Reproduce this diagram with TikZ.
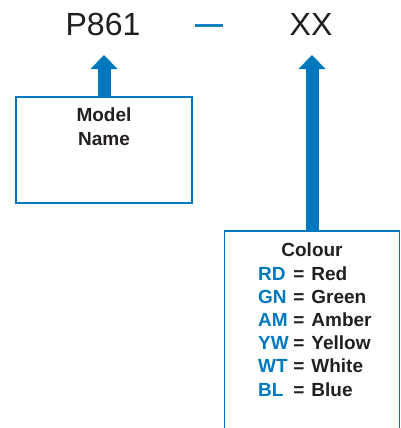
\documentclass[tikz,border=0pt]{standalone}
\usepackage{fontspec}
\setmainfont{Liberation Sans}
\usetikzlibrary{arrows.meta, positioning}
\definecolor{codeblue}{RGB}{0,120,192}
\definecolor{inkgrey}{RGB}{35,31,32}
\tikzstyle{partno} = [inner sep=0pt, font=\fontsize{32}{38}\selectfont, text=inkgrey]
\tikzstyle{infobox} = [rectangle, draw=codeblue, line width=1.3pt, inner sep=0pt]
\tikzstyle{infotext} = [inner sep=0pt, font=\bfseries\fontsize{19}{23.2}\selectfont, text=inkgrey, align=center]
\tikzstyle{bigarrow} = [draw=codeblue, line width=13pt, -{Triangle[width=27pt,length=14pt,line width=0pt,sep=2pt]}]

\begin{document}
\begin{tikzpicture}[x=1pt, y=1pt]
    \useasboundingbox (0,0) rectangle (401,-428);
    \clip (0,0) rectangle (401,-428);
    \node (p861) [partno, anchor=base] at (103,-36) {P861};
    \node (xx) [partno, anchor=base] at (311,-36) {XX};
    \node (dash) [partno, anchor=base, text=codeblue, font=\bfseries\fontsize{28}{30}\selectfont] at (209,-33.5) {—};

    \node (model) [infobox, minimum width=176pt, minimum height=106pt] at (104,-150) {};
    \node (colour) [infobox, minimum width=175pt, minimum height=209pt] at (312,-335.5) {};

    \coordinate (tipA) at (104,-53);
    \coordinate (tipB) at (312,-53);
    \draw [bigarrow] (model.north) -- (tipA);
    \draw [bigarrow] (colour.north) -- (tipB);

    \node (modeltext) [infotext, anchor=north] at (104,-108) {Model\\Name};
    \node (colourtitle) [infotext, anchor=base] at (312,-256.5) {Colour};
    \node (codes) [infotext, anchor=base west] at (258,-280) {%
        \begin{tabular}[t]{@{}l@{\hspace{4.5pt}}c@{\hspace{7pt}}l@{}}
            \textcolor{codeblue}{RD} & = & Red\\
            \textcolor{codeblue}{GN} & = & Green\\
            \textcolor{codeblue}{AM} & = & Amber\\
            \textcolor{codeblue}{YW} & = & Yellow\\
            \textcolor{codeblue}{WT} & = & White\\
            \textcolor{codeblue}{BL} & = & Blue
        \end{tabular}};
\end{tikzpicture}
\end{document}
